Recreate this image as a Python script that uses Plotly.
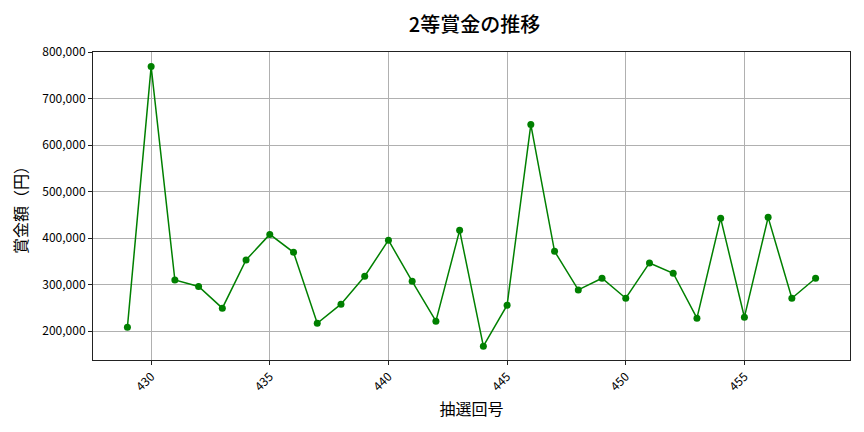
"""2等賞金の推移 — line chart with markers."""
import plotly.graph_objects as go

# 抽選回号
draws = list(range(429, 459))
# 2等賞金（円）
prize = [
    208600, 768700, 310000, 295900, 249400, 353000, 408000, 369500,
    217000, 258000, 318000, 395500, 307000, 221500, 416700, 167800,
    255800, 644000, 371700, 288700, 313700, 270800, 346600, 324500,
    228000, 442500, 230000, 444600, 270800, 313700,
]
x_ticks = [430, 435, 440, 445, 450, 455]
y_ticks = [200000, 300000, 400000, 500000, 600000, 700000, 800000]

FONT = "Noto Sans CJK JP"

fig = go.Figure()
fig.add_trace(
    go.Scatter(
        x=draws, y=prize, mode="lines+markers",
        line=dict(color="#008000", width=1.5),
        marker=dict(color="#008000", size=7),
        hovertemplate="第%{x}回<br>%{y:,}円<extra></extra>",
    )
)

axis_common = dict(
    showgrid=True, gridcolor="#b0b0b0", gridwidth=1,
    showline=True, linecolor="#222222", linewidth=1, mirror=True,
    ticks="outside", ticklen=4, tickcolor="#222222",
    tickfont=dict(family=FONT, size=12, color="#000000"),
    zeroline=False, automargin=False,
)

fig.update_xaxes(
    range=[427.55, 459.45], tickvals=x_ticks, tickangle=-45,
    title=dict(text="抽選回号", font=dict(family=FONT, size=16, color="#000000"),
               standoff=10),
    **axis_common,
)
fig.update_yaxes(
    range=[138000, 800000], tickvals=y_ticks, tickformat=",d",
    title=dict(text="賞金額（円）", font=dict(family=FONT, size=16, color="#000000"),
               standoff=10),
    **axis_common,
)

# page body adds an 8px offset, so the figure is a bit smaller than the window
fig.update_layout(
    width=856, height=416,
    margin=dict(l=85, r=14, t=44, b=64),
    paper_bgcolor="white", plot_bgcolor="white",
    showlegend=False,
    title=dict(text="2等賞金の推移", x=0.545, xanchor="center", y=0.96, yanchor="middle",
               font=dict(family=FONT, size=20, color="#000000", weight=500)),
    font=dict(family=FONT),
)

fig.write_html("out.html")
